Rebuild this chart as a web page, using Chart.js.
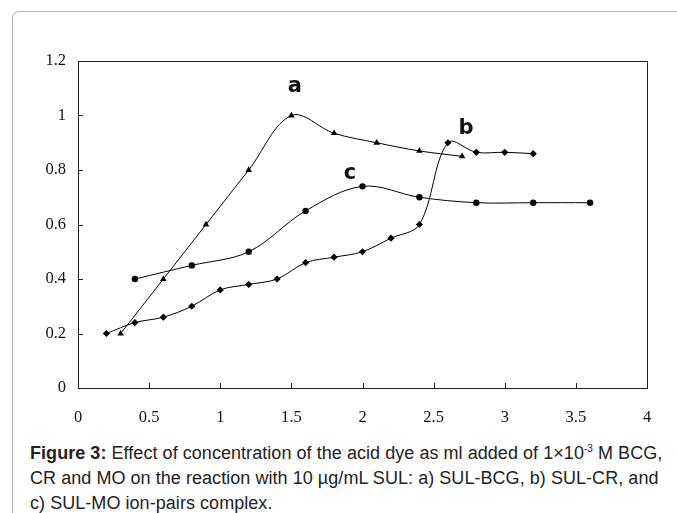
<!DOCTYPE html>
<html>
<head>
<meta charset="utf-8">
<script src="https://cdn.jsdelivr.net/npm/chart.js@4.4.0/dist/chart.umd.min.js"></script>
<style>
  html, body { margin: 0; padding: 0; background: #fff; }
  body { width: 677px; height: 513px; position: relative; overflow: hidden; }
  #frame {
    position: absolute; left: 12px; top: 11px; width: 700px; height: 540px;
    border: 1px solid #b4b4b4; border-radius: 7px; box-sizing: border-box;
  }
  #wrap { position: absolute; left: 0; top: 0; width: 677px; height: 440px; }
  #caption {
    position: absolute; left: 30px; top: 441px; white-space: nowrap;
    font-family: "Liberation Sans", Arial, sans-serif; font-size: 18px;
    line-height: 25px; color: #222; letter-spacing: 0.05px;
  }
  #caption sup { font-size: 10px; vertical-align: 7px; line-height: 0; }
</style>
</head>
<body>
<div id="frame"></div>
<div id="wrap"><canvas id="canvas"></canvas></div>
<div id="caption"><b>Figure 3:</b> Effect of concentration of the acid dye as ml added of 1×10<sup>-3</sup> M BCG,<br>CR and MO on the reaction with 10 µg/mL SUL: a) SUL-BCG, b) SUL-CR, and<br>c) SUL-MO ion-pairs complex.</div>
<script>
// a) SUL-BCG
var bcgX = [0.3, 0.6, 0.9, 1.2, 1.5, 1.8, 2.1, 2.4, 2.7];
var bcgY = [0.2, 0.4, 0.6, 0.8, 1.0, 0.935, 0.9, 0.87, 0.85];
// b) SUL-CR
var crX = [0.2, 0.4, 0.6, 0.8, 1.0, 1.2, 1.4, 1.6, 1.8, 2.0, 2.2, 2.4, 2.6, 2.8, 3.0, 3.2];
var crY = [0.2, 0.24, 0.26, 0.3, 0.36, 0.38, 0.4, 0.46, 0.48, 0.5, 0.55, 0.6, 0.9, 0.865, 0.865, 0.86];
// c) SUL-MO
var moX = [0.4, 0.8, 1.2, 1.6, 2.0, 2.4, 2.8, 3.2, 3.6];
var moY = [0.4, 0.45, 0.5, 0.65, 0.74, 0.7, 0.68, 0.68, 0.68];

var curveLabels = ["a", "b", "c"];
var curveLabelX = [1.525, 2.728, 1.912];
var curveLabelY = [1.086, 0.932, 0.767];

var xTicks = [0, 0.5, 1, 1.5, 2, 2.5, 3, 3.5, 4];
var yTicks = [0, 0.2, 0.4, 0.6, 0.8, 1, 1.2];

function toPoints(xs, ys) {
    var pts = [];
    for (var i = 0; i < xs.length; i++) {
        pts.push({ x: xs[i], y: ys[i] });
    }
    return pts;
}

function series(xs, ys, style, radius) {
    return {
        data: toPoints(xs, ys),
        borderColor: "#000",
        backgroundColor: "#000",
        borderWidth: 1,
        pointStyle: style,
        pointRadius: radius,
        pointBorderWidth: 0,
        pointHoverRadius: radius,
        tension: 0.35,
        fill: false,
        clip: false
    };
}

// frame, inward ticks and the a/b/c labels
var decorations = {
    id: "decorations",
    afterDraw: function (chart) {
        var ctx = chart.ctx;
        var area = chart.chartArea;
        var xs = chart.scales.x;
        var ys = chart.scales.y;
        ctx.save();
        ctx.strokeStyle = "#222";
        ctx.lineWidth = 1;
        ctx.strokeRect(Math.round(area.left) + 0.5, Math.round(area.top) + 0.5,
            Math.round(area.right - area.left), Math.round(area.bottom - area.top));
        ctx.beginPath();
        for (var i = 1; i < xTicks.length - 1; i++) {
            var px = Math.round(xs.getPixelForValue(xTicks[i])) + 0.5;
            ctx.moveTo(px, area.bottom);
            ctx.lineTo(px, area.bottom - 5);
        }
        for (var j = 1; j < yTicks.length - 1; j++) {
            var py = Math.round(ys.getPixelForValue(yTicks[j])) + 0.5;
            ctx.moveTo(area.left, py);
            ctx.lineTo(area.left + 5, py);
        }
        ctx.stroke();
        ctx.fillStyle = "#111";
        ctx.font = "bold 21px 'DejaVu Sans'";
        ctx.textAlign = "center";
        ctx.textBaseline = "alphabetic";
        for (var k = 0; k < curveLabels.length; k++) {
            ctx.fillText(curveLabels[k], xs.getPixelForValue(curveLabelX[k]), ys.getPixelForValue(curveLabelY[k]));
        }
        ctx.restore();
    }
};

var ctx = document.getElementById("canvas").getContext("2d");

var chart = new Chart(ctx, {
    type: "line",
    data: {
        datasets: [
            series(bcgX, bcgY, "triangle", 3.8),
            series(crX, crY, "rectRot", 3.6),
            series(moX, moY, "circle", 3.2)
        ]
    },
    options: {
        responsive: true,
        maintainAspectRatio: false,
        animation: false,
        events: [],
        layout: { padding: { left: 0, top: 61, right: 30, bottom: 12 } },
        plugins: { legend: { display: false }, tooltip: { enabled: false } },
        scales: {
            x: {
                type: "linear",
                min: 0,
                max: 4,
                afterFit: function (scale) { scale.height = 40; },
                afterBuildTicks: function (scale) {
                    scale.ticks = xTicks.map(function (v) { return { value: v }; });
                },
                grid: { display: false, drawTicks: false },
                border: { display: false },
                ticks: {
                    color: "#111",
                    padding: 20,
                    maxRotation: 0,
                    autoSkip: false,
                    font: { family: "'Liberation Serif', 'Times New Roman', serif", size: 16.5 },
                    callback: function (v) { return String(v); }
                }
            },
            y: {
                min: 0,
                max: 1.2,
                afterFit: function (scale) { scale.width = 78; },
                afterBuildTicks: function (scale) {
                    scale.ticks = yTicks.map(function (v) { return { value: v }; });
                },
                grid: { display: false, drawTicks: false },
                border: { display: false },
                ticks: {
                    color: "#111",
                    padding: 12,
                    autoSkip: false,
                    font: { family: "'Liberation Serif', 'Times New Roman', serif", size: 16.5 },
                    callback: function (v) { return String(v); }
                }
            }
        }
    },
    plugins: [decorations]
});
</script>
</body>
</html>
